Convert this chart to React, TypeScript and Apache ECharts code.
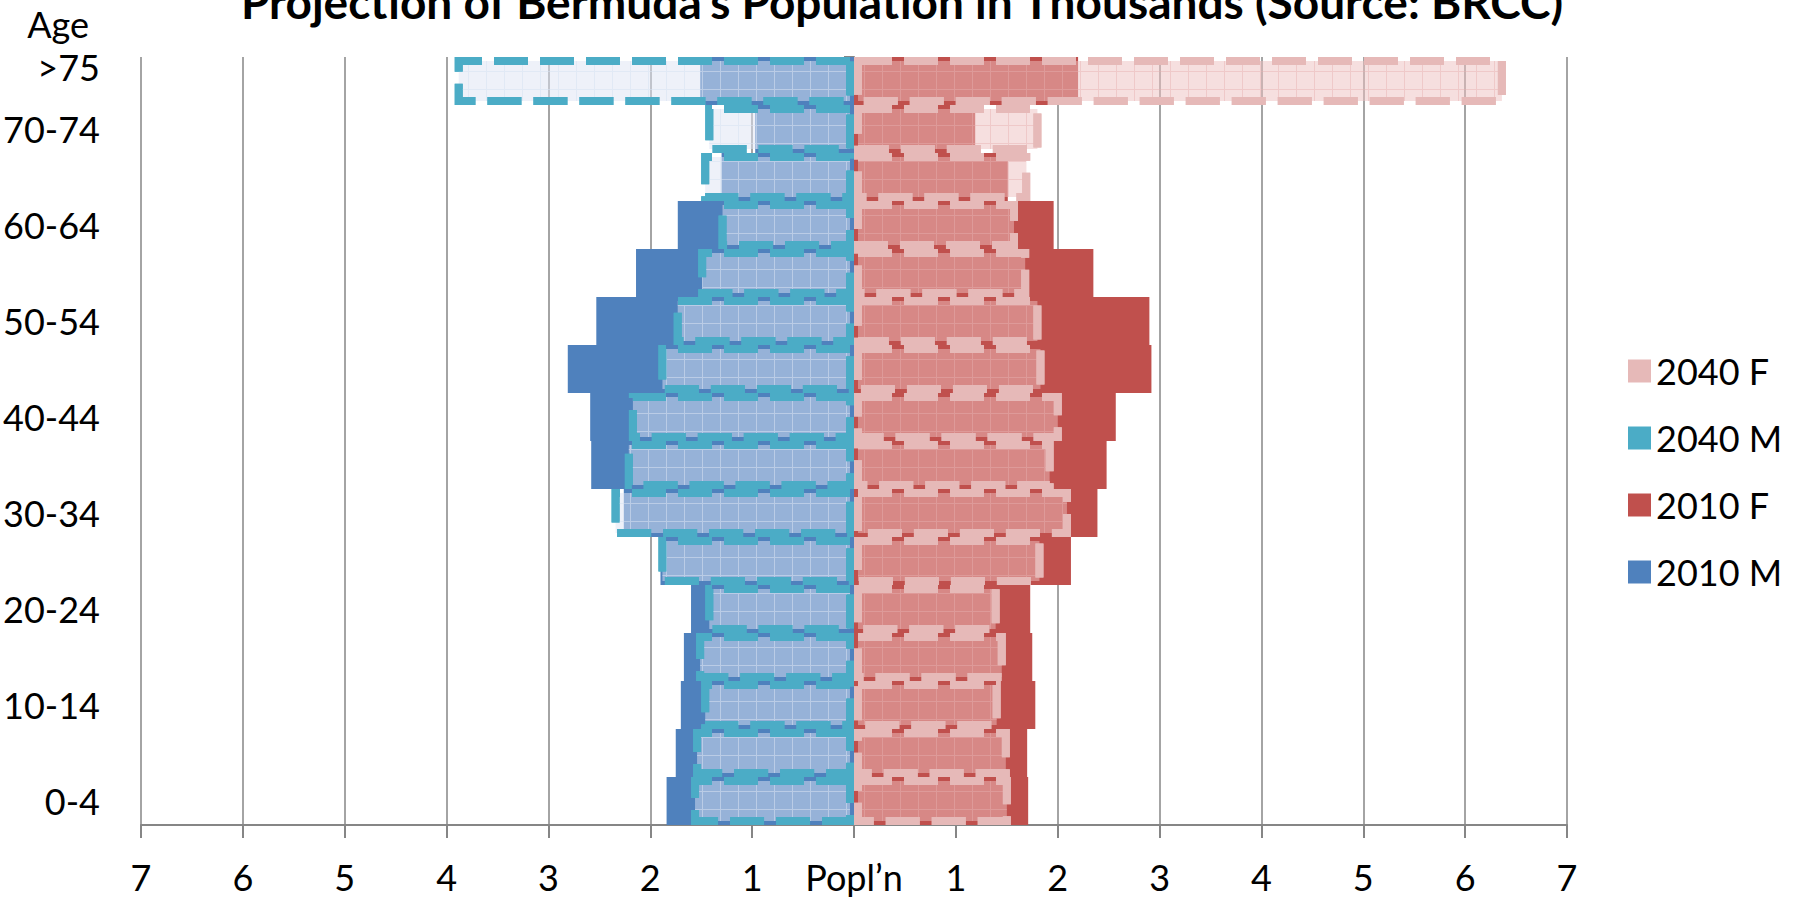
import React, { useEffect, useRef } from "react";
import * as echarts from "echarts";

const ages = ["0-4","5-9","10-14","15-19","20-24","25-29","30-34","35-39","40-44","45-49","50-54","55-59","60-64","65-69","70-74",">75"];
const male2010 = [1.84,1.75,1.70,1.67,1.60,1.90,2.26,2.58,2.59,2.81,2.53,2.14,1.73,1.30,0.97,1.51];
const male2040 = [1.60,1.58,1.50,1.55,1.46,1.92,2.38,2.25,2.21,1.92,1.77,1.53,1.33,1.50,1.46,3.92];
const female2010 = [1.71,1.70,1.78,1.75,1.73,2.13,2.39,2.48,2.57,2.92,2.90,2.35,1.96,1.51,1.19,2.20];
const female2040 = [1.54,1.53,1.44,1.49,1.43,1.86,2.13,1.96,2.04,1.87,1.84,1.72,1.61,1.73,1.84,6.40];
const titleText = "Projection of Bermuda\u2019s Population in Thousands (Source: BRCC)";
const centerLabel = "Popl\u2019n";

const FONT = "Lato";

const gridDecal = (color: string) => ({
  symbol: "rect",
  symbolSize: 1,
  color,
  dashArrayX: [[1, 17], [18, 0]],
  dashArrayY: [17, 0, 1, 0],
  rotation: 0,
});

export default function App() {
  const ref = useRef<HTMLDivElement>(null);
  useEffect(() => {
    document.body.style.margin = "0";
    const chart = echarts.init(ref.current!, null, { renderer: "svg" });
    const gray = "#868686";
    chart.setOption({
      animation: false,
      backgroundColor: "#fff",
      textStyle: { fontFamily: FONT, color: "#000" },
      graphic: [
        {
          type: "text",
          x: 902,
          y: 1,
          style: { text: titleText, font: `bold 46px ${FONT}`, fill: "#000", textAlign: "center", textVerticalAlign: "middle" },
        },
        {
          type: "text",
          x: 89,
          y: 24,
          style: { text: "Age", font: `36px ${FONT}`, fill: "#000", textAlign: "right", textVerticalAlign: "middle" },
        },
      ],
      legend: {
        orient: "vertical",
        left: 1623,
        top: 348,
        itemWidth: 23,
        itemHeight: 23,
        itemGap: 31,
        icon: "rect",
        textStyle: { fontFamily: FONT, fontSize: 36, color: "#000" },
        data: [
          { name: "2040 F", itemStyle: { color: "#E6B9B8", borderWidth: 0, decal: "none" } },
          { name: "2040 M", itemStyle: { color: "#4BACC6", borderWidth: 0, decal: "none" } },
          { name: "2010 F", itemStyle: { color: "#C0504D", borderWidth: 0 } },
          { name: "2010 M", itemStyle: { color: "#4F81BD", borderWidth: 0 } },
        ],
      },
      grid: { left: 141, top: 57, width: 1426, height: 768, containLabel: false },
      xAxis: {
        type: "value",
        min: -7,
        max: 7,
        interval: 1,
        axisLine: { show: true, lineStyle: { color: gray, width: 2 } },
        axisTick: { show: true, length: 13, lineStyle: { color: gray, width: 2 } },
        splitLine: { show: true, lineStyle: { color: gray, width: 1.5 } },
        axisLabel: {
          fontFamily: FONT,
          fontSize: 36,
          color: "#000",
          margin: 34,
          formatter: (v: number) => (v === 0 ? centerLabel : String(Math.abs(v))),
        },
      },
      yAxis: [
        {
          type: "category",
          data: ages,
          position: "left",
          axisLine: { show: false, onZero: false },
          axisTick: { show: false },
          axisLabel: {
            fontFamily: FONT,
            fontSize: 36,
            color: "#000",
            margin: 41,
            interval: (i: number) => i % 2 === 0 || i === ages.length - 1,
            formatter: (v: string, i: number) => (i === ages.length - 1 ? `{top|${v}}` : v),
            rich: { top: { fontFamily: FONT, fontSize: 36, color: "#000", padding: [0, 0, 28, 0] } },
          },
        },
        {
          type: "category",
          data: ages,
          position: "left",
          axisLine: { show: true, onZero: true, lineStyle: { color: gray, width: 2 } },
          axisTick: { show: true, length: 10, lineStyle: { color: gray, width: 2 } },
          axisLabel: { show: false },
        },
      ],
      series: [
        {
          name: "2010 M",
          type: "bar",
          data: male2010.map((v) => -v),
          barGap: "-100%",
          barCategoryGap: "0%",
          itemStyle: { color: "#4F81BD" },
        },
        {
          name: "2010 F",
          type: "bar",
          data: female2010,
          barGap: "-100%",
          barCategoryGap: "0%",
          itemStyle: { color: "#C0504D" },
        },
        {
          name: "2040 M",
          type: "bar",
          data: male2040.map((v) => -v),
          barGap: "-100%",
          barCategoryGap: "0%",
          itemStyle: {
            color: "rgba(222,228,243,0.5)",
            borderColor: "#4BACC6",
            borderWidth: 8,
            borderType: [34, 12],
            decal: gridDecal("rgba(215,225,242,0.55)"),
          },
        },
        {
          name: "2040 F",
          type: "bar",
          data: female2040,
          barGap: "-100%",
          barCategoryGap: "0%",
          itemStyle: {
            color: "rgba(238,192,191,0.5)",
            borderColor: "#E6B9B8",
            borderWidth: 8,
            borderType: [34, 12],
            decal: gridDecal("rgba(230,175,175,0.45)"),
          },
        },
      ],
    });
    return () => chart.dispose();
  }, []);
  return <div ref={ref} style={{ width: 1798, height: 898 }} />;
}
